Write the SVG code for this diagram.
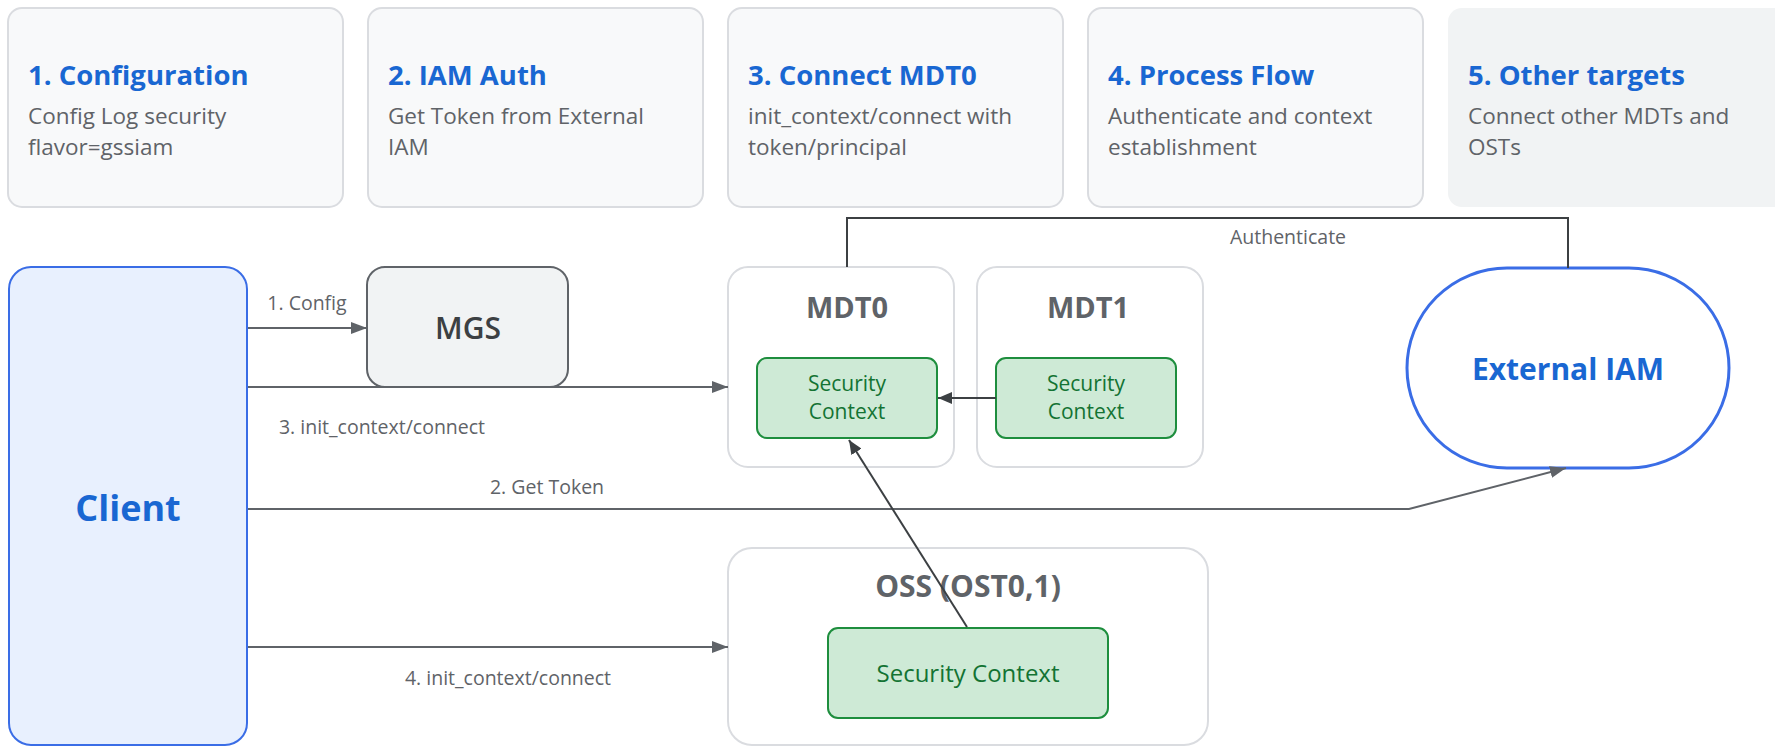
<svg xmlns="http://www.w3.org/2000/svg" width="1775" height="747" viewBox="0 0 1775 747">
  <defs>
    <style>
      text { font-family: "Open Sans", "Noto Sans", "Liberation Sans", sans-serif; }
      .card { fill: #f8f9fa; stroke: #dadce0; stroke-width: 2; }
      .card-muted { fill: #f1f3f4; stroke: none; }
      .card-title { font-size: 27.5px; font-weight: 700; fill: #1967d2; }
      .card-body { font-size: 22.5px; fill: #5f6368; }
      .server { fill: #ffffff; stroke: #dadce0; stroke-width: 2; }
      .server-title { font-size: 29px; font-weight: 700; fill: #5f6368; text-anchor: middle; }
      .ctx { fill: #ceead6; stroke: #1e8e3e; stroke-width: 2; }
      .ctx-text { font-size: 21px; fill: #137333; text-anchor: middle; }
      .ctx-text-wide { font-size: 24px; }
      .oss-title { font-size: 30px; }
      .edge { fill: none; stroke: #5f6368; stroke-width: 2; }
      .edge-dark { fill: none; stroke: #3c4043; stroke-width: 2; }
      .edge-label { font-size: 19.5px; fill: #5f6368; text-anchor: middle; }
      .blue-outline { stroke: #3a6de6; }
    </style>
    <marker id="arrow" viewBox="0 0 16 12" refX="16" refY="6" markerWidth="16" markerHeight="12" markerUnits="userSpaceOnUse" orient="auto">
      <path d="M0,0 L16,6 L0,12 Z" fill="#5f6368"/>
    </marker>
    <marker id="arrow-dark" viewBox="0 0 14 12" refX="14" refY="6" markerWidth="14" markerHeight="12" markerUnits="userSpaceOnUse" orient="auto">
      <path d="M0,0 L14,6 L0,12 Z" fill="#3c4043"/>
    </marker>
  </defs>

  <rect width="1775" height="747" fill="#ffffff"/>

  <!-- Step cards -->
  <g id="step-1">
    <rect class="card" x="8" y="8" width="335" height="199" rx="14"/>
    <text class="card-title" x="28" y="85">1. Configuration</text>
    <text class="card-body" x="28" y="124">Config Log security</text>
    <text class="card-body" x="28" y="155">flavor=gssiam</text>
  </g>
  <g id="step-2">
    <rect class="card" x="368" y="8" width="335" height="199" rx="14"/>
    <text class="card-title" x="388" y="85">2. IAM Auth</text>
    <text class="card-body" x="388" y="124">Get Token from External</text>
    <text class="card-body" x="388" y="155">IAM</text>
  </g>
  <g id="step-3">
    <rect class="card" x="728" y="8" width="335" height="199" rx="14"/>
    <text class="card-title" x="748" y="85">3. Connect MDT0</text>
    <text class="card-body" x="748" y="124">init_context/connect with</text>
    <text class="card-body" x="748" y="155">token/principal</text>
  </g>
  <g id="step-4">
    <rect class="card" x="1088" y="8" width="335" height="199" rx="14"/>
    <text class="card-title" x="1108" y="85">4. Process Flow</text>
    <text class="card-body" x="1108" y="124">Authenticate and context</text>
    <text class="card-body" x="1108" y="155">establishment</text>
  </g>
  <g id="step-5">
    <rect class="card-muted" x="1448" y="8" width="340" height="199" rx="14"/>
    <text class="card-title" x="1468" y="85">5. Other targets</text>
    <text class="card-body" x="1468" y="124">Connect other MDTs and</text>
    <text class="card-body" x="1468" y="155">OSTs</text>
  </g>

  <!-- Client -->
  <g id="client">
    <rect class="blue-outline" x="9" y="267" width="238" height="478" rx="22" fill="#e8f0fe" stroke-width="2"/>
    <text x="128" y="521" font-size="36" font-weight="700" fill="#1967d2" text-anchor="middle">Client</text>
  </g>

  <!-- MGS -->
  <g id="mgs">
    <rect x="367" y="267" width="201" height="120" rx="18" fill="#f1f3f4" stroke="#5f6368" stroke-width="2"/>
    <text x="468" y="339" font-size="30" font-weight="600" fill="#3c4043" text-anchor="middle">MGS</text>
  </g>

  <!-- MDT0 -->
  <g id="mdt0">
    <rect class="server" x="728" y="267" width="226" height="200" rx="20"/>
    <text class="server-title" x="847" y="318">MDT0</text>
    <g id="mdt0-ctx">
      <rect class="ctx" x="757" y="358" width="180" height="80" rx="10"/>
      <text class="ctx-text" x="847" y="391">Security</text>
      <text class="ctx-text" x="847" y="419">Context</text>
    </g>
  </g>

  <!-- MDT1 -->
  <g id="mdt1">
    <rect class="server" x="977" y="267" width="226" height="200" rx="20"/>
    <text class="server-title" x="1088" y="318">MDT1</text>
    <g id="mdt1-ctx">
      <rect class="ctx" x="996" y="358" width="180" height="80" rx="10"/>
      <text class="ctx-text" x="1086" y="391">Security</text>
      <text class="ctx-text" x="1086" y="419">Context</text>
    </g>
  </g>

  <!-- OSS -->
  <g id="oss">
    <rect class="server" x="728" y="548" width="480" height="197" rx="24"/>
    <text class="server-title oss-title" x="968" y="597">OSS (OST0,1)</text>
    <g id="oss-ctx">
      <rect class="ctx" x="828" y="628" width="280" height="90" rx="10"/>
      <text class="ctx-text ctx-text-wide" x="968" y="682">Security Context</text>
    </g>
  </g>

  <!-- External IAM -->
  <g id="external-iam">
    <rect class="blue-outline" x="1407" y="268" width="322" height="200" rx="100" fill="#ffffff" stroke-width="3"/>
    <text x="1568" y="380" font-size="30" font-weight="700" fill="#1967d2" text-anchor="middle">External IAM</text>
  </g>

  <!-- Connectors, drawn over the nodes -->
  <g id="connectors">
    <path class="edge" d="M248,328 H367" marker-end="url(#arrow)"/>
    <path class="edge" d="M248,387 H728" marker-end="url(#arrow)"/>
    <path class="edge" d="M248,509 H1409 L1566,468" marker-end="url(#arrow)"/>
    <path class="edge" d="M248,647 H728" marker-end="url(#arrow)"/>
    <path class="edge-dark" d="M847,267 V218 H1568 V268"/>
    <path class="edge-dark" d="M996,398 H938" marker-end="url(#arrow-dark)"/>
    <path class="edge-dark" d="M967,627 L849,440" marker-end="url(#arrow-dark)"/>
    <text class="edge-label" x="307" y="310">1. Config</text>
    <text class="edge-label" x="382" y="434">3. init_context/connect</text>
    <text class="edge-label" x="547" y="494">2. Get Token</text>
    <text class="edge-label" x="508" y="685">4. init_context/connect</text>
    <text class="edge-label" x="1288" y="244">Authenticate</text>
  </g>
</svg>
